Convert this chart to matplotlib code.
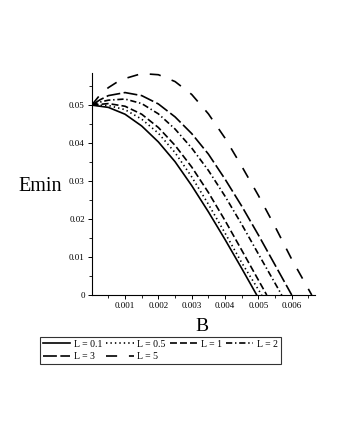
import numpy as np
import matplotlib
matplotlib.use("Agg")
import matplotlib.pyplot as plt

plt.rcParams['font.family'] = ['Liberation Serif', 'DejaVu Serif']
plt.rcParams['lines.scale_dashes'] = False

# values
B_01 = [0, 0.0005, 0.001, 0.0015, 0.002, 0.0025, 0.003, 0.0035, 0.004, 0.0045, 0.00495]
E_01 = [0.0500, 0.0494, 0.0476, 0.0445, 0.0403, 0.0351, 0.0288, 0.0219, 0.0146, 0.0070, 0.0]

B_05 = [0, 0.0005, 0.001, 0.0015, 0.002, 0.0025, 0.003, 0.0035, 0.004, 0.0045, 0.0051]
E_05 = [0.0500, 0.0499, 0.0488, 0.0463, 0.0426, 0.0375, 0.0311, 0.0239, 0.0163, 0.0085, 0.0]

B_1 = [0, 0.0005, 0.001, 0.0015, 0.002, 0.0025, 0.003, 0.0035, 0.004, 0.0045, 0.00525]
E_1 = [0.0500, 0.0504, 0.0497, 0.0476, 0.0441, 0.0394, 0.0337, 0.0270, 0.0196, 0.0118, 0.0]

B_2 = [0, 0.00025, 0.0005, 0.001, 0.0015, 0.002, 0.0025, 0.003, 0.0035, 0.004, 0.0045, 0.005, 0.0057]
E_2 = [0.0500, 0.0508, 0.0513, 0.0516, 0.0504, 0.0477, 0.0437, 0.0387, 0.0328, 0.0260, 0.0186, 0.0108, 0.0]

B_3 = [0, 0.00025, 0.0005, 0.001, 0.0015, 0.002, 0.0025, 0.003, 0.0035, 0.004, 0.0045, 0.005, 0.0055, 0.006]
E_3 = [0.0500, 0.0514, 0.0525, 0.0533, 0.0525, 0.0503, 0.0469, 0.0425, 0.0371, 0.0305, 0.0234, 0.0158, 0.0079, 0.0]

B_5 = [0, 0.00025, 0.0005, 0.00075, 0.001, 0.0015, 0.002, 0.0025, 0.003, 0.0035, 0.004, 0.0045, 0.005, 0.0055, 0.006, 0.0066]
E_5 = [0.0500, 0.0527, 0.0546, 0.0560, 0.0570, 0.0583, 0.0580, 0.0562, 0.0528, 0.0477, 0.0413, 0.0339, 0.0262, 0.0180, 0.0094, 0.0]

labels = ["L = 0.1", "L = 0.5", "L = 1", "L = 2", "L = 3", "L = 5"]
xticks = [0.001, 0.002, 0.003, 0.004, 0.005, 0.006]
yticks = [0, 0.01, 0.02, 0.03, 0.04, 0.05]

styles = ['-', (0, (1, 2.2)), (0, (5, 2.2)), (0, (4.5, 2, 1, 2)), (0, (10, 2.5)), (0, (8, 8.5))]

fig = plt.figure(figsize=(3.4, 4.4), dpi=100)
ax = fig.add_axes([0.2697, 0.3295, 0.657, 0.505])

series = [(B_01, E_01), (B_05, E_05), (B_1, E_1), (B_2, E_2), (B_3, E_3), (B_5, E_5)]
lines = []
for (b, e), ls, lab in zip(series, styles, labels):
    ln, = ax.plot(b, e, color='black', lw=1.2, linestyle=ls, label=lab)
    lines.append(ln)

ax.set_xlim(0, 0.0067)
ax.set_ylim(0, 0.0585)
ax.spines['top'].set_visible(False)
ax.spines['right'].set_visible(False)
ax.spines['left'].set_linewidth(0.8)
ax.spines['bottom'].set_linewidth(0.8)

ax.set_xticks(xticks)
ax.set_xticklabels([str(v) for v in xticks])
ax.set_yticks(yticks)
ax.set_yticklabels(['0', '0.01', '0.02', '0.03', '0.04', '0.05'])
ax.set_xticks(np.arange(0.0005, 0.0067, 0.001), minor=True)
ax.set_yticks([0.005, 0.015, 0.025, 0.035, 0.045, 0.055], minor=True)
ax.tick_params(which='major', length=3, width=0.7, labelsize=6.5, pad=2)
ax.tick_params(which='minor', length=2, width=0.6)

fig.text(40 / 340, 1 - 186.7 / 440, "Emin", fontsize=14.5, ha='center', va='center')
fig.text(201.7 / 340, 1 - 326.7 / 440, "B", fontsize=14, ha='center', va='center')

# reorder so the legend reads row by row
order = [0, 4, 1, 5, 2, 3]
leg = fig.legend([lines[i] for i in order], [labels[i] for i in order],
                 ncol=4, loc='upper left', bbox_to_anchor=(40 / 340, 1 - 336.7 / 440),
                 borderaxespad=0, fontsize=7, frameon=True, fancybox=False,
                 edgecolor='black', handlelength=2.8, handletextpad=0.4,
                 columnspacing=0.4, labelspacing=0.35, borderpad=0.3)
leg.get_frame().set_linewidth(0.8)

fig.savefig("out.png", dpi=100)
